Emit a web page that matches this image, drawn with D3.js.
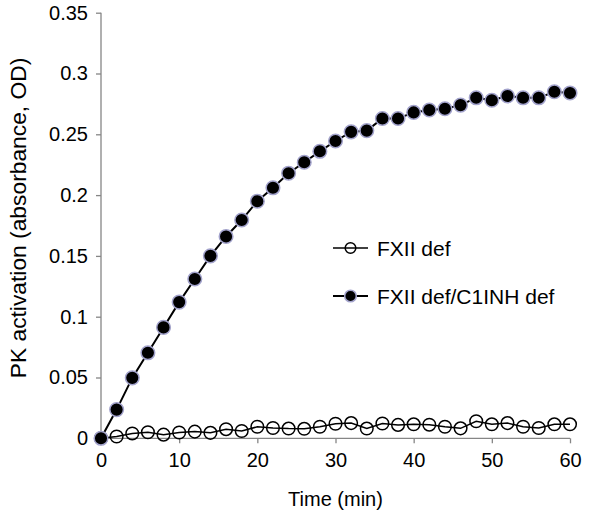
<!DOCTYPE html>
<html lang="en">
<head>
    <meta charset="UTF-8">
    <title>PK activation</title>
    <script src="https://d3js.org/d3.v7.min.js"></script>
    <style>
        body {
            margin: 0;
            background: #fff;
            font-family: "Liberation Sans", Arial, sans-serif;
        }
        svg text {
            fill: #000;
        }
    </style>
</head>
<body>
    <div id="chart"></div>

    <script>
        // time points (min)
        const times = d3.range(0, 61, 2);

        // FXII def (open circles)
        const fxiiDef = [0, 0.0015, 0.004, 0.005, 0.003, 0.0048, 0.0055, 0.0045, 0.0075, 0.006,
            0.0095, 0.0085, 0.008, 0.0078, 0.0095, 0.012, 0.0125, 0.008, 0.0122, 0.011,
            0.0115, 0.0112, 0.0095, 0.0082, 0.014, 0.0115, 0.0125, 0.0095, 0.0085, 0.0115, 0.0115];

        // FXII def/C1INH def (filled circles)
        const fxiiC1inhDef = [0, 0.0236, 0.0497, 0.0703, 0.0912, 0.112, 0.131, 0.150, 0.166, 0.1795,
            0.195, 0.206, 0.218, 0.227, 0.236, 0.2445, 0.252, 0.253, 0.263, 0.263,
            0.268, 0.270, 0.271, 0.274, 0.280, 0.278, 0.2815, 0.280, 0.280, 0.285, 0.284];

        const xTicks = [0, 10, 20, 30, 40, 50, 60];
        const yTicks = [0, 0.05, 0.1, 0.15, 0.2, 0.25, 0.3, 0.35];
        const seriesNames = ["FXII def", "FXII def/C1INH def"];

        const width = 610, height = 511;
        const margin = { top: 12.7, right: 40, bottom: 72.7, left: 101 };

        const svg = d3.select("#chart").append("svg")
            .attr("width", width).attr("height", height);

        const x = d3.scaleLinear().domain([0, 60]).range([margin.left, width - margin.right]);
        const y = d3.scaleLinear().domain([0, 0.35]).range([height - margin.bottom, margin.top]);

        const axisColor = "#868686";

        // y axis
        const yAxis = svg.append("g")
            .attr("transform", `translate(${margin.left},0)`)
            .call(d3.axisLeft(y).tickValues(yTicks).tickSize(5).tickPadding(8)
                .tickFormat(d => d3.format("~g")(d)));
        // x axis
        const xAxis = svg.append("g")
            .attr("transform", `translate(0,${y(0)})`)
            .call(d3.axisBottom(x).tickValues(xTicks).tickSize(5).tickPadding(10));

        [yAxis, xAxis].forEach(g => {
            g.select(".domain").attr("stroke", axisColor).attr("stroke-width", 1.3);
            g.selectAll(".tick line").attr("stroke", axisColor).attr("stroke-width", 1.3);
            g.selectAll(".tick text").attr("font-size", 20)
                .attr("font-family", "Liberation Sans, Arial, sans-serif").attr("fill", "#000");
        });
        yAxis.select(".domain").attr("d", `M0,${y(0.35)}V${y(0)}`);
        xAxis.select(".domain").attr("d", `M${x(0)},0H${x(60)}`);

        // axis titles
        svg.append("text")
            .attr("x", (x(0) + x(60)) / 2)
            .attr("y", 506)
            .attr("text-anchor", "middle")
            .attr("font-size", 20)
            .text("Time (min)");

        svg.append("text")
            .attr("transform", "translate(26,218) rotate(-90)")
            .attr("text-anchor", "middle")
            .attr("font-size", 22.8)
            .text("PK activation (absorbance, OD)");

        const line = d3.line().x((d, i) => x(times[i])).y(d => y(d));

        // open series
        svg.append("path").datum(fxiiDef)
            .attr("d", line).attr("fill", "none")
            .attr("stroke", "#000").attr("stroke-width", 1.5);
        svg.selectAll(".open").data(fxiiDef).enter().append("circle")
            .attr("class", "open")
            .attr("cx", (d, i) => x(times[i])).attr("cy", d => y(d))
            .attr("r", 6.3).attr("fill", "none")
            .attr("stroke", "#000").attr("stroke-width", 1.5);

        // filled series
        svg.append("path").datum(fxiiC1inhDef)
            .attr("d", line).attr("fill", "none")
            .attr("stroke", "#000").attr("stroke-width", 2);
        svg.selectAll(".filled").data(fxiiC1inhDef).enter().append("circle")
            .attr("class", "filled")
            .attr("cx", (d, i) => x(times[i])).attr("cy", d => y(d))
            .attr("r", 6.8).attr("fill", "#000")
            .attr("stroke", "#a3a3cc").attr("stroke-width", 1.5);

        // legend
        const legend = svg.append("g").attr("transform", "translate(333,248)");
        seriesNames.forEach((name, i) => {
            const row = legend.append("g").attr("transform", `translate(0,${i * 48})`);
            row.append("line").attr("x1", 0).attr("x2", 35).attr("y1", 0).attr("y2", 0)
                .attr("stroke", "#000").attr("stroke-width", i ? 2 : 1.5);
            row.append("circle").attr("cx", 17.5).attr("cy", 0).attr("r", i ? 5.8 : 5.3)
                .attr("fill", i ? "#000" : "none")
                .attr("stroke", i ? "#a3a3cc" : "#000").attr("stroke-width", 1.5);
            row.append("text").attr("x", 44).attr("y", 7.5)
                .attr("font-size", 21).text(name);
        });
    </script>
</body>
</html>
